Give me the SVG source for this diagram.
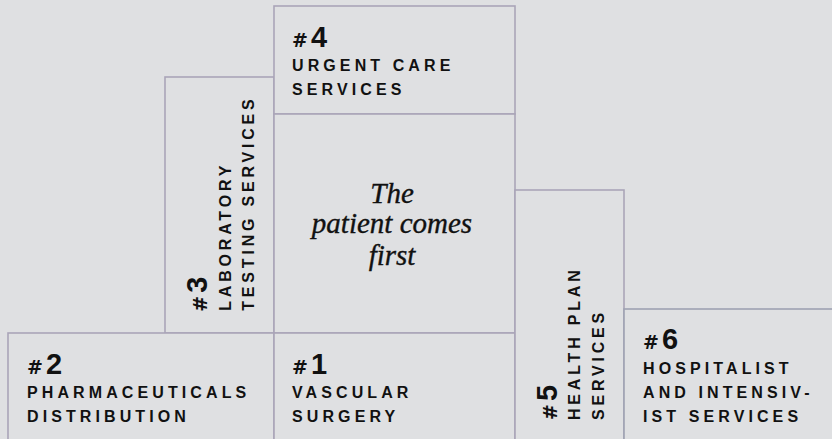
<svg xmlns="http://www.w3.org/2000/svg" width="832" height="439" viewBox="0 0 832 439">
<style>
.box{fill:#dfe0e2;stroke:#aaa5b8;stroke-width:1.6}
.hash{font-family:"DejaVu Sans","Liberation Sans",sans-serif;font-weight:700;font-size:19px;fill:#111}
.num{font-family:"Liberation Sans","Open Sans",sans-serif;font-weight:700;font-size:29px;fill:#111}
.lbl{font-family:"Liberation Sans","Open Sans",sans-serif;font-weight:700;font-size:16px;letter-spacing:4.1px;fill:#111}
.vl{letter-spacing:3.8px}
.mid{font-family:"Liberation Serif","Times New Roman",serif;font-style:italic;font-size:29px;fill:#111;stroke:#111;stroke-width:0.35;text-anchor:middle}
</style>
<rect width="832" height="439" fill="#dfe0e2"/>
<g id="node-3">
<rect class="box" x="165" y="77" width="109" height="256"/>
<g transform="translate(206.7,311.7) rotate(-90)"><text class="hash" x="0" y="0">#<tspan class="num" dx="3">3</tspan></text></g>
<text class="lbl vl" transform="translate(230.7,310.7) rotate(-90)">LABORATORY</text>
<text class="lbl vl" transform="translate(254.3,310.7) rotate(-90)">TESTING SERVICES</text>
</g>
<g id="node-4">
<rect class="box" x="274" y="6" width="241" height="108"/>
<text class="hash" x="292" y="46.7">#<tspan class="num" dx="3">4</tspan></text>
<text class="lbl" x="292" y="71">URGENT CARE</text>
<text class="lbl" x="292" y="95">SERVICES</text>
</g>
<g id="node-center">
<rect class="box" x="274" y="114" width="241" height="219"/>
<text class="mid" x="392" y="202.7">The</text>
<text class="mid" x="392" y="233.3">patient comes</text>
<text class="mid" x="392" y="265">first</text>
</g>
<g id="node-2">
<rect class="box" x="8" y="333" width="266" height="120"/>
<text class="hash" x="27" y="374">#<tspan class="num" dx="3">2</tspan></text>
<text class="lbl" x="27" y="398">PHARMACEUTICALS</text>
<text class="lbl" x="27" y="421.7">DISTRIBUTION</text>
</g>
<g id="node-1">
<rect class="box" x="274" y="333" width="241" height="120"/>
<text class="hash" x="292" y="374">#<tspan class="num" dx="3">1</tspan></text>
<text class="lbl" x="292" y="398">VASCULAR</text>
<text class="lbl" x="292" y="421.7">SURGERY</text>
</g>
<g id="node-5">
<rect class="box" x="515" y="190" width="109" height="263"/>
<g transform="translate(556.7,420) rotate(-90)"><text class="hash" x="0" y="0">#<tspan class="num" dx="3">5</tspan></text></g>
<text class="lbl vl" transform="translate(580,420) rotate(-90)">HEALTH PLAN</text>
<text class="lbl vl" transform="translate(604.3,420) rotate(-90)">SERVICES</text>
</g>
<g id="node-6">
<rect class="box" x="624" y="309" width="220" height="144" style="stroke:#9ea2b2"/>
<text class="hash" x="643" y="349">#<tspan class="num" dx="3">6</tspan></text>
<text class="lbl" x="643" y="374.3">HOSPITALIST</text>
<text class="lbl" x="643" y="398.3">AND INTENSIV-</text>
<text class="lbl" x="643" y="421.7">IST SERVICES</text>
</g>
<g id="connectors"></g>
</svg>
